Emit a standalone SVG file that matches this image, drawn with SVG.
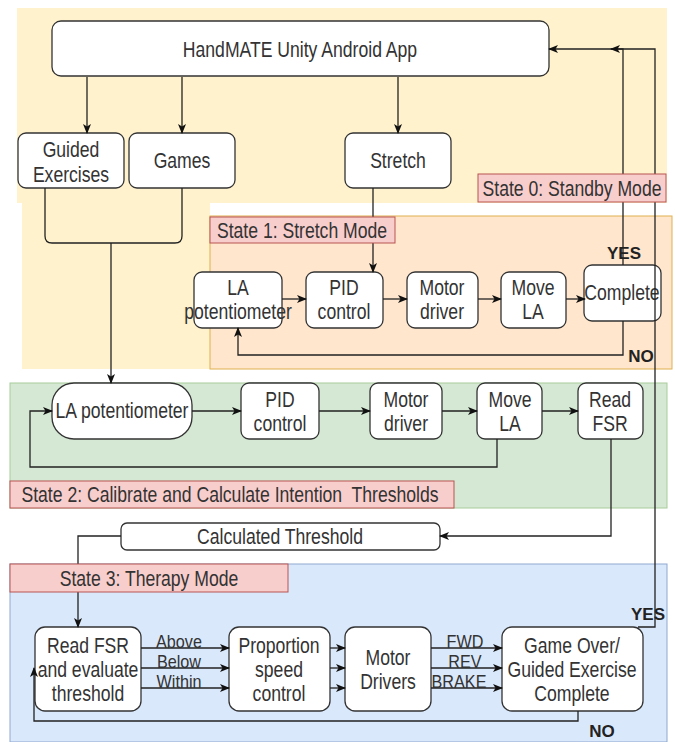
<svg xmlns="http://www.w3.org/2000/svg" width="675" height="742" viewBox="0 0 675 742">
<style>
.node{fill:#fff;stroke:#333;stroke-width:1.3}
.t{font-family:"Liberation Sans",Arial,sans-serif;font-size:22px;fill:#333;text-anchor:middle}
.s{font-family:"Liberation Sans",Arial,sans-serif;font-size:18px;fill:#333;text-anchor:middle}
.b{font-family:"Liberation Sans",Arial,sans-serif;font-size:17px;font-weight:bold;fill:#222;text-anchor:middle}
.lab{fill:#f8cecc;stroke:#b85450;stroke-width:1}
.c{fill:none;stroke:#222;stroke-width:1.3}
.a{marker-end:url(#arr)}
</style>
<defs>
<marker id="arr" markerUnits="userSpaceOnUse" markerWidth="10" markerHeight="10" viewBox="0 0 10 10" refX="9" refY="5" orient="auto">
<path d="M0,1 L10,5 L0,9 L2.5,5 Z" fill="#111"/>
</marker>
</defs>
<g id="regions">
<path d="M17,8 H667 V203 H210 V369 H22 V203 H17 Z" fill="#fff2cc"/>
<rect x="210" y="216" width="462" height="153" fill="#ffe6cc" stroke="#e0b050" stroke-width="1"/>
<rect x="10" y="383" width="657" height="125" fill="#d5e8d4" stroke="#a8cc9a" stroke-width="1"/>
<rect x="10" y="564" width="657" height="178" fill="#dae8fc" stroke="#8fa9d0" stroke-width="1"/>
</g>
<g id="n-app"><rect class="node" x="52" y="21" width="497" height="55" rx="9"/><text class="t" transform="matrix(.8 0 0 1 300 0)" x="0" y="57">HandMATE Unity Android App</text></g>
<g id="n-guided"><rect class="node" x="18" y="133" width="106" height="55" rx="8"/><text class="t" transform="matrix(.8 0 0 1 71 0)"><tspan x="0" y="157">Guided</tspan><tspan x="0" y="182">Exercises</tspan></text></g>
<g id="n-games"><rect class="node" x="129" y="133" width="106" height="55" rx="8"/><text class="t" transform="matrix(.8 0 0 1 182 0)" x="0" y="168">Games</text></g>
<g id="n-stretch"><rect class="node" x="345" y="133" width="106" height="55" rx="8"/><text class="t" transform="matrix(.8 0 0 1 398 0)" x="0" y="168">Stretch</text></g>
<g id="n-s1-la"><rect class="node" x="194" y="272" width="88" height="56" rx="8"/><text class="t" transform="matrix(.8 0 0 1 238 0)"><tspan x="0" y="295">LA</tspan><tspan x="0" y="319">potentiometer</tspan></text></g>
<g id="n-s1-pid"><rect class="node" x="306" y="272" width="77" height="56" rx="8"/><text class="t" transform="matrix(.8 0 0 1 344 0)"><tspan x="0" y="295">PID</tspan><tspan x="0" y="319">control</tspan></text></g>
<g id="n-s1-motor"><rect class="node" x="407" y="272" width="71" height="56" rx="8"/><text class="t" transform="matrix(.8 0 0 1 442 0)"><tspan x="0" y="295">Motor</tspan><tspan x="0" y="319">driver</tspan></text></g>
<g id="n-s1-move"><rect class="node" x="501" y="272" width="65" height="56" rx="8"/><text class="t" transform="matrix(.8 0 0 1 533 0)"><tspan x="0" y="295">Move</tspan><tspan x="0" y="319">LA</tspan></text></g>
<g id="n-s1-complete"><rect class="node" x="584" y="265" width="77" height="56" rx="8"/><text class="t" transform="matrix(.8 0 0 1 622 0)" x="0" y="300">Complete</text></g>
<g id="n-s2-la"><rect class="node" x="52" y="383" width="140" height="56" rx="22"/><text class="t" transform="matrix(.8 0 0 1 122 0)" x="0" y="418">LA potentiometer</text></g>
<g id="n-s2-pid"><rect class="node" x="241" y="383" width="78" height="56" rx="8"/><text class="t" transform="matrix(.8 0 0 1 280 0)"><tspan x="0" y="407">PID</tspan><tspan x="0" y="431">control</tspan></text></g>
<g id="n-s2-motor"><rect class="node" x="370" y="383" width="72" height="56" rx="8"/><text class="t" transform="matrix(.8 0 0 1 406 0)"><tspan x="0" y="407">Motor</tspan><tspan x="0" y="431">driver</tspan></text></g>
<g id="n-s2-move"><rect class="node" x="477" y="383" width="65" height="56" rx="8"/><text class="t" transform="matrix(.8 0 0 1 510 0)"><tspan x="0" y="407">Move</tspan><tspan x="0" y="431">LA</tspan></text></g>
<g id="n-s2-read"><rect class="node" x="578" y="383" width="65" height="56" rx="8"/><text class="t" transform="matrix(.8 0 0 1 610 0)"><tspan x="0" y="407">Read</tspan><tspan x="0" y="431">FSR</tspan></text></g>
<g id="n-calc"><rect class="node" x="121" y="523" width="319" height="27" rx="6"/><text class="t" transform="matrix(.8 0 0 1 280 0)" x="0" y="544">Calculated Threshold</text></g>
<g id="n-s3-read"><rect class="node" x="35" y="627" width="106" height="84" rx="10"/><text class="t" transform="matrix(.8 0 0 1 88 0)"><tspan x="0" y="653">Read FSR</tspan><tspan x="0" y="677">and evaluate</tspan><tspan x="0" y="701">threshold</tspan></text></g>
<g id="n-s3-prop"><rect class="node" x="229" y="627" width="101" height="84" rx="10"/><text class="t" transform="matrix(.8 0 0 1 279 0)"><tspan x="0" y="653">Proportion</tspan><tspan x="0" y="677">speed</tspan><tspan x="0" y="701">control</tspan></text></g>
<g id="n-s3-motor"><rect class="node" x="345" y="627" width="86" height="84" rx="10"/><text class="t" transform="matrix(.8 0 0 1 388 0)"><tspan x="0" y="665">Motor</tspan><tspan x="0" y="689">Drivers</tspan></text></g>
<g id="n-s3-game"><rect class="node" x="502" y="627" width="141" height="84" rx="10"/><text class="t" transform="matrix(.8 0 0 1 572 0)"><tspan x="0" y="653">Game Over/</tspan><tspan x="0" y="677">Guided Exercise</tspan><tspan x="0" y="701">Complete</tspan></text></g>
<g id="connectors">
<path class="c a" d="M87,77 V133"/>
<path class="c a" d="M182,77 V133"/>
<path class="c a" d="M398,77 V133"/>
<path class="c" d="M45,188 V236 Q45,243 52,243 H175 Q182,243 182,236 V188"/>
<path class="c a" d="M111,243 V383"/>
<path class="c a" d="M373,188 V272"/>
<path class="c a" d="M282,299 H306"/>
<path class="c a" d="M383,299 H407"/>
<path class="c a" d="M478,299 H501"/>
<path class="c a" d="M566,299 H585"/>
<path class="c a" d="M623,265 V49 H549"/>
<path class="c a" d="M623,321 V355 H238 V328"/>
<path class="c a" d="M192,411 H241"/>
<path class="c a" d="M319,411 H370"/>
<path class="c a" d="M442,411 H477"/>
<path class="c a" d="M542,411 H578"/>
<path class="c a" d="M497,439 V467 H30 V411 H52"/>
<path class="c a" d="M611,439 V536 H440"/>
<path class="c a" d="M121,536 H78 V627"/>
<path class="c a" d="M141,648 H229"/>
<path class="c a" d="M141,668 H229"/>
<path class="c a" d="M141,688 H229"/>
<path class="c a" d="M330,648 H345"/>
<path class="c a" d="M330,668 H345"/>
<path class="c a" d="M330,688 H345"/>
<path class="c a" d="M431,648 H502"/>
<path class="c a" d="M431,668 H502"/>
<path class="c a" d="M431,688 H502"/>
<path class="c a" d="M578,711 V721 H34 V668"/>
<path class="c a" d="M638,627 H655 V49 H611"/>
</g>
<g id="edge-labels">
<text class="s" transform="matrix(.9 0 0 1 179 0)" x="0" y="648">Above</text>
<text class="s" transform="matrix(.9 0 0 1 179 0)" x="0" y="668">Below</text>
<text class="s" transform="matrix(.9 0 0 1 179 0)" x="0" y="688">Within</text>
<text class="s" transform="matrix(.9 0 0 1 465 0)" x="0" y="648">FWD</text>
<text class="s" transform="matrix(.9 0 0 1 465 0)" x="0" y="668">REV</text>
<text class="s" transform="matrix(.9 0 0 1 459 0)" x="0" y="688">BRAKE</text>
<text class="b" x="624" y="259">YES</text>
<text class="b" x="641" y="362">NO</text>
<text class="b" x="648" y="620">YES</text>
<text class="b" x="602" y="737">NO</text>
</g>
<g id="state-labels">
<g id="l-s0"><rect class="lab" x="478" y="174" width="188" height="28"/><text class="t" transform="matrix(.8 0 0 1 572 0)" x="0" y="196">State 0: Standby Mode</text></g>
<g id="l-s1"><rect class="lab" x="210" y="217" width="185" height="26"/><text class="t" transform="matrix(.8 0 0 1 302 0)" x="0" y="238">State 1: Stretch Mode</text></g>
<g id="l-s2"><rect class="lab" x="10" y="481" width="444" height="27"/><text class="t" transform="matrix(.8 0 0 1 230 0)" x="0" y="502" style="white-space:pre">State 2: Calibrate and Calculate Intention  Thresholds</text></g>
<g id="l-s3"><rect class="lab" x="10" y="564" width="278" height="28"/><text class="t" transform="matrix(.8 0 0 1 149 0)" x="0" y="586">State 3: Therapy Mode</text></g>
</g>
</svg>
